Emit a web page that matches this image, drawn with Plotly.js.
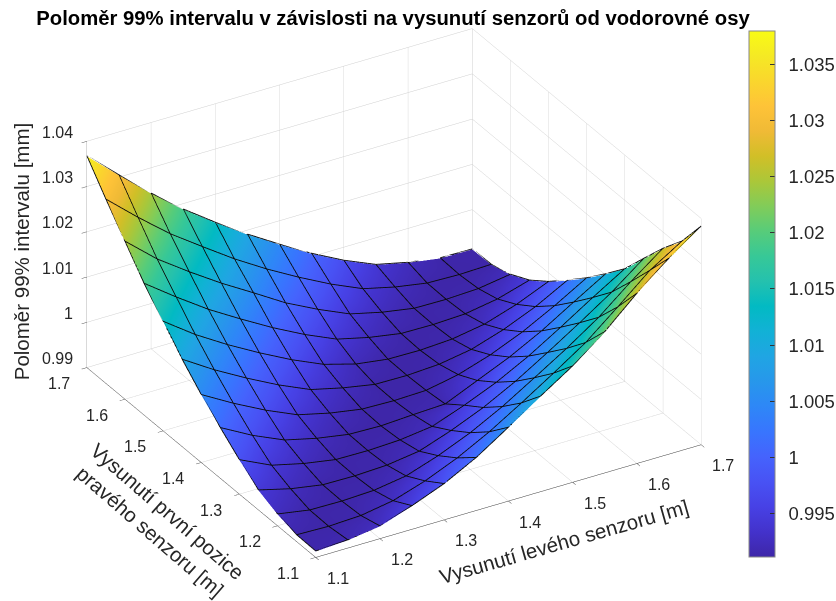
<!DOCTYPE html>
<html><head><meta charset="utf-8">
<script src="https://cdn.plot.ly/plotly-3.0.1.min.js"></script>
<style>html,body{margin:0;padding:0;background:#fff;overflow:hidden;width:836px;height:601px}#c{width:860px;height:601px}</style>
</head><body><div id="c"></div>
<script>
const xValues=[1.1,1.15,1.2,1.25,1.3,1.35,1.4,1.45,1.5,1.55,1.6,1.65,1.7];
const yValues=[1.1,1.15,1.2,1.25,1.3,1.35,1.4,1.45,1.5,1.55,1.6,1.65,1.7];
const zRows=[
[.9913,.9917,.9927,.9951,.9979,1.0016,1.0062,1.0110,1.0156,1.0211,1.0275,1.0332,1.0382],
[.9914,.9912,.9915,.9927,.9950,.9980,1.0017,1.0060,1.0105,1.0152,1.0210,1.0270,1.0314],
[.9925,.9913,.9912,.9915,.9926,.9950,.9980,1.0017,1.0060,1.0104,1.0152,1.0210,1.0263],
[.9943,.9925,.9913,.9912,.9915,.9925,.9950,.9980,1.0017,1.0060,1.0105,1.0152,1.0206],
[.9975,.9942,.9925,.9913,.9912,.9915,.9924,.9950,.9980,1.0017,1.0060,1.0105,1.0148],
[1.0011,.9973,.9942,.9925,.9913,.9911,.9915,.9918,.9949,.9980,1.0017,1.0060,1.0102],
[1.0049,1.0009,.9973,.9942,.9925,.9913,.9911,.9913,.9927,.9950,.9980,1.0017,1.0058],
[1.0092,1.0048,1.0009,.9973,.9942,.9925,.9912,.9911,.9915,.9927,.9950,.9980,1.0018],
[1.0141,1.0091,1.0048,1.0009,.9973,.9942,.9922,.9912,.9911,.9915,.9927,.9950,.9980],
[1.0190,1.0139,1.0091,1.0049,1.0009,.9973,.9942,.9925,.9913,.9912,.9915,.9927,.9948],
[1.0248,1.0188,1.0139,1.0093,1.0051,1.0008,.9973,.9942,.9925,.9913,.9912,.9915,.9926],
[1.0306,1.0245,1.0188,1.0139,1.0091,1.0048,1.0009,.9973,.9942,.9925,.9913,.9911,.9913],
[1.0367,1.0304,1.0243,1.0187,1.0137,1.0090,1.0047,1.0006,.9970,.9940,.9924,.9913,.9912]
];
const xyTicks=[1.1,1.2,1.3,1.4,1.5,1.6,1.7];
const zTicks=[.99,1,1.01,1.02,1.03,1.04];
const zTickText=['0.99','1','1.01','1.02','1.03','1.04'];
const cbTicks=[.995,1,1.005,1.01,1.015,1.02,1.025,1.03,1.035];
const cbTickText=['0.995','1','1.005','1.01','1.015','1.02','1.025','1.03','1.035'];
const titleText='Poloměr 99% intervalu v závislosti na vysunutí senzorů od vodorovné osy';
const xTitle='Vysunutí levého senzoru [m]';
const yTitle='Vysunutí první pozice<br>pravého senzoru [m]';
const zTitle='Poloměr 99% intervalu [mm]';
const parula=[[.2422,.1504,.6603],[.2647,.1978,.7952],[.2783,.2559,.8991],[.2810,.3228,.9579],[.2699,.3892,.9906],[.2206,.4603,.9973],[.1786,.5289,.9682],[.1540,.5902,.9218],[.1248,.6459,.8883],[.0689,.6948,.8394],[.0067,.7312,.7660],[.1408,.7584,.6842],[.2161,.7843,.5923],[.3406,.8008,.4789],[.5044,.7993,.3480],[.6720,.7793,.2227],[.8203,.7498,.1535],[.9393,.7288,.2100],[.9970,.7659,.2199],[.9786,.8386,.1766],[.9597,.9135,.1423],[.9769,.9839,.0805]];
const colorscale=parula.map((c,i)=>[i/(parula.length-1),`rgb(${c.map(v=>Math.round(v*255)).join(',')})`]);
const ink='#262626', tf={family:'Liberation Sans, Arial, sans-serif',size:16,color:ink};
const tif={family:'Liberation Sans, Arial, sans-serif',size:20.5,color:ink};
const W=860;
const ann=[];
xyTicks.forEach(v=>ann.push({x:v,y:1.1,z:.99,text:String(v),showarrow:false,xshift:22,yshift:-21,font:tf}));
xyTicks.forEach(v=>ann.push({x:1.1,y:v,z:.99,text:String(v),showarrow:false,xshift:-28,yshift:-16,font:tf}));
zTicks.forEach((v,i)=>ann.push({x:1.1,y:1.7,z:v,text:zTickText[i],showarrow:false,xanchor:'right',xshift:-12,yshift:9,font:tf}));
ann.push({x:1.45,y:1.1,z:.99,text:xTitle,showarrow:false,textangle:-16,xshift:23,yshift:-50,font:tif});
ann.push({x:1.1,y:1.4,z:.99,text:yTitle,showarrow:false,textangle:41,xshift:-43,yshift:-59,font:tif});
ann.push({x:1.1,y:1.7,z:1.015,text:zTitle,showarrow:false,textangle:-90,xshift:-65,yshift:3,font:tif});
const ax={showbackground:false,showgrid:true,gridcolor:'#cfcfcf',gridwidth:1,showline:true,linecolor:'#3a3a3a',linewidth:1,
 ticks:'outside',ticklen:6,tickcolor:'#3a3a3a',showticklabels:false,zeroline:false,showspikes:false,title:{text:''}};
const eyeR=1.6, k=1.53, meshLift=.00012;
const mx=[],my=[],mz=[];
yValues.forEach((y,j)=>{xValues.forEach((x,i)=>{mx.push(x);my.push(y);mz.push(zRows[j][i]+meshLift);});mx.push(null);my.push(null);mz.push(null);});
xValues.forEach((x,i)=>{yValues.forEach((y,j)=>{mx.push(x);my.push(y);mz.push(zRows[j][i]+meshLift);});mx.push(null);my.push(null);mz.push(null);});
Plotly.newPlot('c',[{type:'surface',x:xValues,y:yValues,z:zRows,cmin:.9911,cmax:1.038,colorscale,
 lighting:{ambient:1,diffuse:0,specular:0,roughness:1,fresnel:0},
 contours:{x:{highlight:false},y:{highlight:false},z:{highlight:false}},
 hoverinfo:'skip',
 colorbar:{x:749/W,xanchor:'left',xref:'paper',y:1-31/601,yanchor:'top',yref:'paper',len:526/601,lenmode:'fraction',thickness:26,thicknessmode:'pixels',
   tickmode:'array',tickvals:cbTicks,ticktext:cbTickText.map(s=>'\u00a0\u2009'+s),ticks:'inside',ticklen:5,tickcolor:'#333',outlinecolor:'#888',outlinewidth:1,
   tickfont:{family:'Liberation Sans, Arial, sans-serif',size:18.5,color:ink},xpad:0,ypad:0}},
 {type:'scatter3d',mode:'lines',x:mx,y:my,z:mz,line:{color:'#0a0a0a',width:1.8},hoverinfo:'skip',showlegend:false,connectgaps:false}],
{width:W,height:601,margin:{l:0,r:0,t:0,b:0},paper_bgcolor:'#fff',showlegend:false,
 title:{text:titleText,font:{family:'Liberation Sans, Arial, sans-serif',size:20.3,color:'#000',weight:'bold'},x:393/W,xanchor:'center',y:1-18/601,yanchor:'middle'},
 scene:{domain:{x:[0,788/W],y:[1-586/601,1]},
  aspectmode:'manual',aspectratio:{x:k,y:k,z:.58*k},
  camera:{projection:{type:'orthographic'},eye:{x:-.4443*eyeR,y:-.7484*eyeR,z:.4926*eyeR},up:{x:0,y:0,z:1},center:{x:0,y:0,z:0}},
  xaxis:Object.assign({},ax,{range:[1.1,1.7],tickvals:xyTicks}),
  yaxis:Object.assign({},ax,{range:[1.1,1.7],tickvals:xyTicks}),
  zaxis:Object.assign({},ax,{range:[.99,1.04],tickvals:zTicks,linecolor:'#9a9a9a',tickcolor:'#555'}),
  annotations:ann}
},{displayModeBar:false,staticPlot:false});
</script></body></html>
